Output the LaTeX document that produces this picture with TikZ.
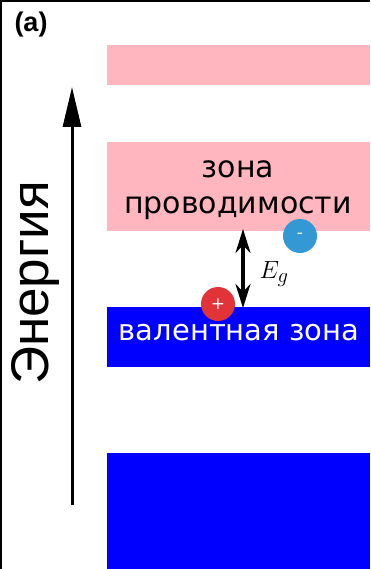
\documentclass[tikz,border=0pt]{standalone}
\usepackage{fontspec}
\setmainfont{DejaVu Sans}
\newfontfamily\labelfont{Liberation Sans}
\usetikzlibrary{arrows.meta}
\definecolor{cbpink}{RGB}{255,182,190}
\definecolor{vbblue}{RGB}{0,0,255}
\definecolor{elblue}{RGB}{52,152,212}
\definecolor{hored}{RGB}{226,52,56}
\tikzset{
  bandtext/.style={inner sep=0pt, anchor=base},
  carrier/.style={circle, minimum size=34pt, inner sep=0pt, text=white,
    font=\fontsize{17}{17}\selectfont},
  gaparrow/.style={line width=3.5pt, {Stealth[length=24pt,width=15pt]}-{Stealth[length=24pt,width=15pt]}},
  energyarrow/.style={line width=3pt, -{Triangle[length=40pt,width=18pt]}},
}
\begin{document}
\begin{tikzpicture}[x=1pt, y=-1pt]
\useasboundingbox (0,0) rectangle (370,569);
\fill[white] (0,0) rectangle (370,569);
% frame edges
\fill[black] (0,0) rectangle (370,2);
\fill[black] (0,0) rectangle (2,569);

% panel label
\node[inner sep=0pt, anchor=base, font=\labelfont\bfseries\fontsize{27}{27}\selectfont] (lbl) at (31,32) {(a)};

% energy bands
\fill[cbpink] (107,45) rectangle (370,85);
\fill[cbpink] (107,142) rectangle (370,231);
\fill[vbblue] (107,307) rectangle (370,367);
\fill[vbblue] (107,453) rectangle (370,569);

\coordinate (cbbot) at (243,229);
\coordinate (vbtop) at (243,308);

% band labels
\node[bandtext, font=\fontsize{30}{30}\selectfont] (cb1) at (238,178) {зона};
\node[bandtext, font=\fontsize{30}{30}\selectfont] (cb2) at (238,213) {проводимости};
\node[bandtext, font=\fontsize{29}{29}\selectfont, text=white] (vb) at (239,340) {валентная зона};

% energy axis
\coordinate (axbot) at (72,505);
\coordinate (axtop) at (72,87);
\draw[energyarrow] (axbot) -- (axtop);
\node[rotate=90, anchor=base, inner sep=0pt, font=\labelfont\fontsize{53}{53}\selectfont] (en) at (48,283) {Энергия};

% band gap
\draw[gaparrow] (cbbot) -- (vbtop);
\node[inner sep=0pt, font=\fontsize{30}{30}\selectfont] (eg) at (274,274) {$E_g$};

% carriers
\node[carrier, fill=elblue] (el) at (300,236) {-};
\node[carrier, fill=hored] (ho) at (218,304) {+};
\end{tikzpicture}
\end{document}
